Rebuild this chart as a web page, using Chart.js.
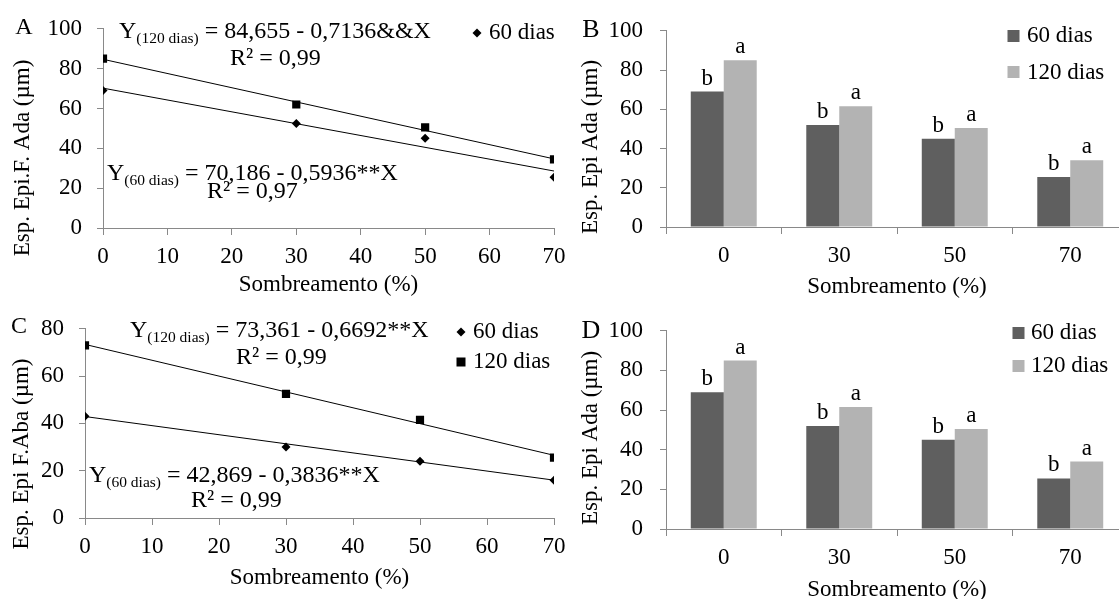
<!DOCTYPE html>
<html><head><meta charset="utf-8">
<script src="https://cdn.jsdelivr.net/npm/chart.js@4.4.0/dist/chart.umd.min.js"></script>
<style>
html,body{margin:0;padding:0;background:#fff;width:1119px;height:599px;overflow:hidden;position:relative}
canvas{position:absolute}
</style></head><body>
<canvas id="cA" width="600" height="320" style="left:0;top:0"></canvas>
<canvas id="cC" width="600" height="320" style="left:0;top:300px"></canvas>
<canvas id="cB" width="600" height="320" style="left:560px;top:0"></canvas>
<canvas id="cD" width="600" height="320" style="left:560px;top:300px"></canvas>
<script>
// ---------------- data ----------------
const shading = [0, 30, 50, 70];
const shadingLabels = ['0', '30', '50', '70'];
const fitX = [0, 70];
// Panel A (Esp. Epi.F. Ada)
const A_60 = [69, 52.5, 45, 25.5];
const A_120 = [85, 62, 50.5, 34.5];
const A_fit60 = [70.2, 28.6];
const A_fit120 = [84.7, 34.7];
// Panel C (Esp. Epi F.Aba)
const C_60 = [43, 30, 24, 16];
const C_120 = [73, 52.5, 41.5, 25.5];
const C_fit60 = [42.9, 16.0];
const C_fit120 = [73.4, 26.5];
// Panel B and D (bars)
const B_60 = [69, 52, 45, 25.5];
const B_120 = [85, 61.5, 50.5, 34];
const D_60 = [69, 52, 45, 25.5];
const D_120 = [85, 61.5, 50.5, 34];
const letters60 = ['b', 'b', 'b', 'b'];
const letters120 = ['a', 'a', 'a', 'a'];
const seriesNames = ['60 dias', '120 dias'];

// ---------------- styling ----------------
const FF = '"Liberation Serif", "Times New Roman", serif';
const AXIS = '#898989';
const DARK = '#5f5f5f', LIGHT = '#b3b3b3';
Chart.defaults.font.family = FF;
Chart.defaults.color = '#000';

function pts(xs, ys) { return xs.map((x, i) => ({x: x, y: ys[i]})); }

function layoutFor(f, a) {
  return {padding: {left: 0, top: a.y1 - f.T, right: f.L + f.W - a.x2, bottom: 0}};
}

function yScale(f, a, ymax, tickPad) {
  return {
    min: 0, max: ymax,
    grid: {drawOnChartArea: false, color: AXIS, tickLength: 6},
    border: {color: AXIS},
    ticks: {stepSize: 20, color: '#000', font: {family: FF, size: 23}, padding: tickPad},
    afterFit(s) { s.width = a.x1 - f.L; }
  };
}
function xTitle(pb) {
  return {display: true, text: 'Sombreamento (%)', color: '#000', font: {family: FF, size: 23}, padding: {top: 0, bottom: pb}};
}

function eq(ctx, x, y, sub, rest) {
  ctx.textAlign = 'left'; ctx.textBaseline = 'alphabetic'; ctx.fillStyle = '#000';
  ctx.font = '24px ' + FF;
  ctx.fillText('Y', x, y);
  let w = ctx.measureText('Y').width;
  ctx.font = '15.5px ' + FF;
  ctx.fillText(sub, x + w, y + 4.5);
  w += ctx.measureText(sub).width;
  ctx.font = '24px ' + FF;
  ctx.fillText(rest, x + w, y);
}
function txt(ctx, s, x, y, size, align, base) {
  ctx.font = size + 'px ' + FF; ctx.fillStyle = '#000';
  ctx.textAlign = align || 'left'; ctx.textBaseline = base || 'alphabetic';
  ctx.fillText(s, x, y);
}
function vtxt(ctx, s, x, y) {
  ctx.save(); ctx.translate(x, y); ctx.rotate(-Math.PI / 2);
  txt(ctx, s, 0, 0, 23, 'center', 'middle'); ctx.restore();
}
function diamond(ctx, x, y, r) {
  ctx.fillStyle = '#000'; ctx.beginPath();
  ctx.moveTo(x - r, y); ctx.lineTo(x, y - r); ctx.lineTo(x + r, y); ctx.lineTo(x, y + r); ctx.closePath(); ctx.fill();
}
function square(ctx, x, y, s, c) { ctx.fillStyle = c; ctx.fillRect(x - s / 2, y - s / 2, s, s); }

function annot(f, draw) {
  return {id: 'annot', afterDraw(chart) {
    const ctx = chart.ctx; ctx.save(); ctx.translate(-f.L, -f.T); draw(ctx, chart); ctx.restore();
  }};
}

// ---------------- line panels ----------------
function linePanel(id, f, a, d60, d120, fit60, fit120, ymax, xtp, draw) {
  new Chart(document.getElementById(id), {
    type: 'scatter',
    data: {datasets: [
      {label: seriesNames[0], data: pts(shading, d60), pointStyle: 'rectRot', pointRadius: 4.5, backgroundColor: '#000', borderWidth: 0, showLine: false},
      {label: seriesNames[1], data: pts(shading, d120), pointStyle: 'rect', pointRadius: 5.8, backgroundColor: '#000', borderWidth: 0, showLine: false},
      {label: 'fit60', data: pts(fitX, fit60), showLine: true, pointRadius: 0, borderColor: '#000', borderWidth: 1},
      {label: 'fit120', data: pts(fitX, fit120), showLine: true, pointRadius: 0, borderColor: '#000', borderWidth: 1}
    ]},
    options: {
      responsive: false, animation: false, layout: layoutFor(f, a),
      plugins: {legend: {display: false}, tooltip: {enabled: false}},
      scales: {
        x: {type: 'linear', min: 0, max: 70,
          grid: {drawOnChartArea: false, color: AXIS, tickLength: 7},
          border: {color: AXIS},
          ticks: {stepSize: 10, color: '#000', font: {family: FF, size: 23}, padding: 8, maxRotation: 0},
          title: xTitle(xtp),
          afterFit(s) { s.height = f.T + f.H - a.y2; }},
        y: yScale(f, a, ymax, 15)
      }
    },
    plugins: [annot(f, draw)]
  });
}

const fA = {L: 0, T: 0, W: 600, H: 320}, aA = {x1: 103, x2: 554, y1: 25, y2: 228};
linePanel('cA', fA, aA, A_60, A_120, A_fit60, A_fit120, 100, 21, (ctx) => {
  txt(ctx, 'A', 24, 34, 24, 'center');
  vtxt(ctx, 'Esp. Epi.F. Ada (µm)', 23, 158);
  eq(ctx, 119, 38, '(120 dias)', ' = 84,655 - 0,7136&&X');
  txt(ctx, 'R² = 0,99', 230, 65, 24);
  eq(ctx, 107, 180, '(60 dias)', ' = 70,186 - 0,5936**X');
  txt(ctx, 'R² = 0,97', 207, 198, 24);
  diamond(ctx, 477, 33, 4.5);
  txt(ctx, seriesNames[0], 489, 33, 23, 'left', 'middle');
});

const fC = {L: 0, T: 300, W: 600, H: 320}, aC = {x1: 85, x2: 554, y1: 325, y2: 518};
linePanel('cC', fC, aC, C_60, C_120, C_fit60, C_fit120, 80, 28, (ctx) => {
  txt(ctx, 'C', 19, 333, 24, 'center');
  vtxt(ctx, 'Esp. Epi F.Aba (µm)', 22, 454);
  eq(ctx, 130, 337, '(120 dias)', ' = 73,361 - 0,6692**X');
  txt(ctx, 'R² = 0,99', 236, 364, 24);
  eq(ctx, 89, 482, '(60 dias)', ' = 42,869 - 0,3836**X');
  txt(ctx, 'R² = 0,99', 191, 507, 24);
  diamond(ctx, 461, 332, 4.5);
  txt(ctx, seriesNames[0], 473, 332, 23, 'left', 'middle');
  square(ctx, 461, 362, 9, '#000');
  txt(ctx, seriesNames[1], 473, 362, 23, 'left', 'middle');
});

// ---------------- bar panels ----------------
function barPanel(id, f, a, d60, d120, xtp, draw) {
  new Chart(document.getElementById(id), {
    type: 'bar',
    data: {labels: shadingLabels, datasets: [
      {label: seriesNames[0], data: d60, backgroundColor: DARK, categoryPercentage: 0.571, barPercentage: 1},
      {label: seriesNames[1], data: d120, backgroundColor: LIGHT, categoryPercentage: 0.571, barPercentage: 1}
    ]},
    options: {
      responsive: false, animation: false, layout: layoutFor(f, a),
      plugins: {legend: {display: false}, tooltip: {enabled: false}},
      scales: {
        x: {grid: {drawOnChartArea: false, color: AXIS, tickLength: 7, offset: true},
          border: {color: AXIS},
          ticks: {color: '#000', font: {family: FF, size: 23}, padding: 8, maxRotation: 0},
          title: xTitle(xtp),
          afterFit(s) { s.height = f.T + f.H - a.y2; }},
        y: yScale(f, a, 100, 17)
      }
    },
    plugins: [annot(f, (ctx, chart) => {
      ctx.save(); ctx.translate(f.L, f.T);
      const m0 = chart.getDatasetMeta(0).data, m1 = chart.getDatasetMeta(1).data;
      m0.forEach((b, i) => txt(ctx, letters60[i], b.x, b.y - 7, 23, 'center'));
      m1.forEach((b, i) => txt(ctx, letters120[i], b.x, b.y - 7, 23, 'center'));
      ctx.restore();
      draw(ctx);
    })]
  });
}

const fB = {L: 560, T: 0, W: 600, H: 320}, aB = {x1: 666, x2: 1128, y1: 25, y2: 227};
barPanel('cB', fB, aB, B_60, B_120, 19, (ctx) => {
  txt(ctx, 'B', 591, 37, 26, 'center');
  vtxt(ctx, 'Esp. Epi Ada (µm)', 591, 147);
  square(ctx, 1013.5, 36, 12, DARK);
  txt(ctx, seriesNames[0], 1027, 36, 23, 'left', 'middle');
  square(ctx, 1013.5, 72, 12, LIGHT);
  txt(ctx, seriesNames[1], 1027, 73, 23, 'left', 'middle');
});

const fD = {L: 560, T: 300, W: 600, H: 320}, aD = {x1: 666, x2: 1128, y1: 325, y2: 529};
barPanel('cD', fD, aD, D_60, D_120, 16, (ctx) => {
  txt(ctx, 'D', 591, 338, 26, 'center');
  vtxt(ctx, 'Esp. Epi Ada (µm)', 591, 438);
  square(ctx, 1018.5, 333, 12, DARK);
  txt(ctx, seriesNames[0], 1031, 333, 23, 'left', 'middle');
  square(ctx, 1018.5, 366, 12, LIGHT);
  txt(ctx, seriesNames[1], 1031, 366, 23, 'left', 'middle');
});
</script>
</body></html>
